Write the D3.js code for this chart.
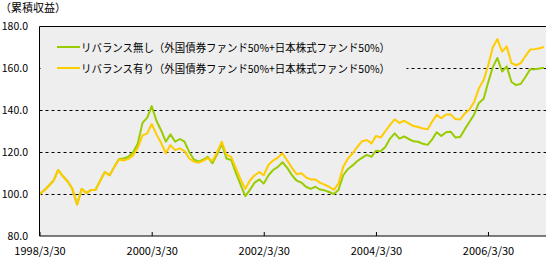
<!DOCTYPE html>
<html>
<head>
<meta charset="utf-8">
<script src="https://cdn.jsdelivr.net/npm/d3@7"></script>
<style>
  body { margin: 0; background: #fff; }
  svg text { font-family: "Noto Sans CJK JP", sans-serif; fill: #000; }
</style>
</head>
<body>
<div id="chart"></div>
<script>
// monthly points, 1998/3/30 .. 2007/3/30
var startMonth = "1998/3/30";
var endMonth = "2007/3/30";

var noRebalance = [
  100, 101.8, 104, 106.5, 111.5, 108.5, 106, 102.5, 95, 102.5,
  100.5, 102, 102, 106.5, 110.5, 109, 113, 116.8, 117, 117.8,
  120, 124, 134, 136.5, 142, 135, 130.5, 125, 128.5, 125,
  126.3, 125, 120, 116.5, 115.5, 116.5, 117.8, 114.7, 119, 124,
  117, 116.3, 110, 104.5, 99, 102, 105.5, 107, 105, 109,
  111.5, 113, 115.2, 112.5, 109, 106.5, 105.5, 103.5, 102.5, 103.5,
  102.2, 101.8, 101, 100, 102, 109, 112, 113.7, 115.8, 117.3,
  118.7, 117.8, 120.7, 120.5, 122.5, 126.5, 129, 126.5, 127.5, 126.3,
  125.2, 125, 124, 123.5, 126, 129.5, 127.7, 129.5, 129.8, 127,
  127.2, 131, 134.5, 138, 143.5, 145.5, 153, 160.5, 165, 158.5,
  161, 153.5, 152, 152.7, 156, 159.6, 159.6, 160, 160.3
];

var rebalance = [
  100, 101.8, 104, 106.5, 111.5, 108.5, 106, 102.5, 95, 102.5,
  100.5, 102, 102, 106.5, 110.5, 109, 113, 116.5, 116, 116.8,
  118.5, 122, 128, 129, 133.5, 128.5, 124.5, 119.5, 123.4, 121,
  121.8, 120.5, 117, 115.5, 115, 116, 117.2, 115.8, 120, 125,
  118.7, 117.8, 112.3, 107, 102.5, 106.5, 109, 110.5, 109, 114,
  116, 117.4, 119.5, 116, 112.5, 109.5, 110, 108, 107, 107,
  105.5, 104.5, 103.5, 102, 105, 113, 117, 119.5, 122.5, 125.2,
  125.8, 124.2, 127.7, 127, 130, 133, 135.7, 134, 135, 133.7,
  132.5, 132, 131.3, 131, 134.5, 137.8, 136.2, 138, 138, 135.8,
  135.6, 138.5, 140.5, 144, 150.5, 154.5, 161, 170, 174, 168,
  170.5, 162.5, 161.5, 162.5, 166, 169, 169.2, 169.6, 170.2
];

var seriesNames = [
  "リバランス無し（外国債券ファンド50%+日本株式ファンド50%）",
  "リバランス有り（外国債券ファンド50%+日本株式ファンド50%）"
];
var seriesColors = ["#99cc00", "#ffcc00"];

var yTicks = [80, 100, 120, 140, 160, 180];
var xTickLabels = ["1998/3/30", "2000/3/30", "2002/3/30", "2004/3/30", "2006/3/30"];
var yTitle = "（累積収益）";

var svgWidth = 546;
var svgHeight = 258;

var plot = { left: 39.5, right: 546, top: 26.5, bottom: 236 };

var parse = d3.timeParse("%Y/%m/%d");
var fmt = d3.timeFormat("%Y/%-m/%d");

// dates for each monthly point
var dates = d3.timeMonth.range(d3.timeMonth.floor(parse(startMonth)), d3.timeMonth.offset(d3.timeMonth.floor(parse(endMonth)), 1))
  .map(d => d3.timeDay.offset(d, 29));

var svg = d3.select("#chart")
  .append("svg")
  .attr("width", svgWidth)
  .attr("height", svgHeight);

var x = d3.scaleTime()
  .domain([parse("1998/3/30"), parse("2007/4/12")])
  .range([plot.left, plot.right]);

var y = d3.scaleLinear()
  .domain([80, 180])
  .range([plot.bottom, plot.top]);

// plot background
svg.append("rect")
  .attr("x", plot.left)
  .attr("y", plot.top)
  .attr("width", plot.right - plot.left + 2)
  .attr("height", plot.bottom - plot.top)
  .attr("fill", "#eeeeee");

// dashed grid lines
svg.append("g")
  .selectAll("line")
  .data(yTicks.filter(v => v > 80 && v < 180))
  .enter()
  .append("line")
  .attr("x1", plot.left)
  .attr("x2", plot.right)
  .attr("y1", d => Math.round(y(d)) + 0.5)
  .attr("y2", d => Math.round(y(d)) + 0.5)
  .attr("stroke", "#000")
  .attr("stroke-width", 1)
  .attr("stroke-dasharray", "3,3");

// legend backdrop hides the grid behind it
svg.append("rect")
  .attr("x", plot.left + 1)
  .attr("y", plot.top + 1)
  .attr("width", 366)
  .attr("height", 52)
  .attr("fill", "#eeeeee");

// lines
var line = d3.line()
  .x((d, i) => x(dates[i]))
  .y(d => y(d));

[noRebalance, rebalance].forEach((vals, k) => {
  svg.append("path")
    .datum(vals)
    .attr("fill", "none")
    .attr("stroke", seriesColors[k])
    .attr("stroke-width", 2)
    .attr("stroke-linejoin", "round")
    .attr("d", line);
});

// frame: top, left, bottom
svg.append("path")
  .attr("d", `M${plot.right + 1},${plot.top} H${plot.left} V${plot.bottom} H${plot.right + 1}`)
  .attr("fill", "none")
  .attr("stroke", "#000")
  .attr("stroke-width", 1);

// x axis
var bottomAxis = d3.axisBottom(x)
  .tickValues(xTickLabels.map(parse))
  .tickFormat(fmt)
  .tickSizeInner(-4)
  .tickSizeOuter(0)
  .tickPadding(11);

var xAxis = svg.append("g")
  .attr("transform", `translate(0, ${plot.bottom})`)
  .call(bottomAxis);
xAxis.select(".domain").remove();
xAxis.selectAll("line").attr("stroke", "#000");
xAxis.selectAll("text").attr("font-size", 11).attr("font-family", null);

// y axis
var leftAxis = d3.axisLeft(y)
  .tickValues(yTicks)
  .tickFormat(d3.format(".1f"))
  .tickSize(0)
  .tickPadding(11.5);

var yAxis = svg.append("g")
  .attr("transform", `translate(${plot.left}, 0)`)
  .call(leftAxis);
yAxis.select(".domain").remove();
yAxis.selectAll("text").attr("font-size", 10.5).attr("font-family", null);

// title
svg.append("text")
  .attr("x", 0)
  .attr("y", 12)
  .attr("font-size", 11)
  .text(yTitle);

// legend
var legend = svg.append("g");
seriesNames.forEach((name, k) => {
  var ly = 47 + k * 21;
  legend.append("line")
    .attr("x1", 57)
    .attr("x2", 80)
    .attr("y1", ly)
    .attr("y2", ly)
    .attr("stroke", seriesColors[k])
    .attr("stroke-width", 2);
  legend.append("text")
    .attr("x", 81)
    .attr("y", ly + 4.5)
    .attr("font-size", 11)
    .attr("textLength", 309)
    .attr("lengthAdjust", "spacingAndGlyphs")
    .text(name);
});
</script>
</body>
</html>
